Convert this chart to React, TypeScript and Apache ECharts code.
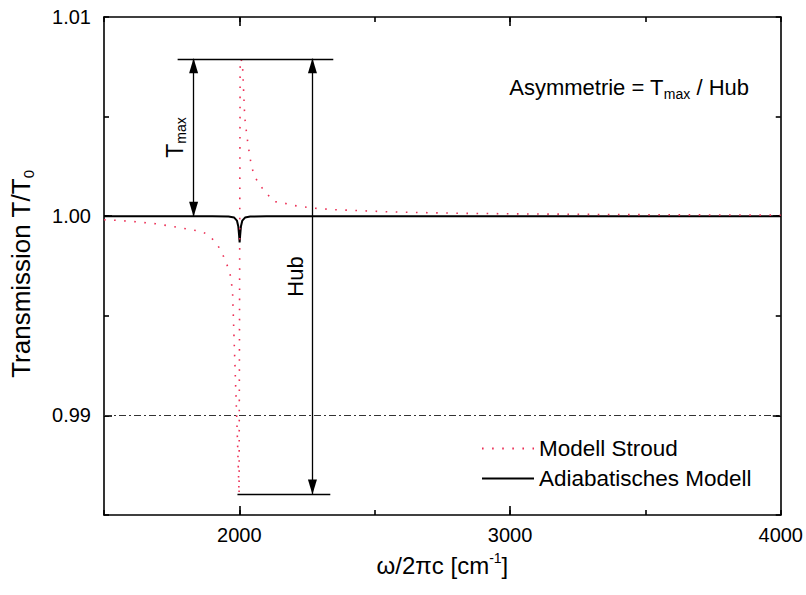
import React, { useEffect, useRef } from "react";
import * as echarts from "echarts";

const FONT = "'Liberation Sans', Arial, Helvetica, sans-serif";

// Modell Stroud (red dotted)
const stroudX = [1500, 1537, 1618, 1691, 1783, 1864, 1894, 1923, 1942, 1957, 1968, 1975, 1977, 1980, 1984, 1988, 1993, 1999, 2003, 2011, 2014, 2017, 2020, 2024, 2028, 2033, 2038, 2044, 2053, 2072, 2097, 2127, 2158, 2201, 2268, 2348, 2440, 2532, 2600, 2800, 3000, 3300, 3600, 4000];
const stroudT = [0.99982, 0.9998, 0.99972, 0.99962, 0.99942, 0.99922, 0.99897, 0.99847, 0.99797, 0.99747, 0.99697, 0.99617, 0.99531, 0.99406, 0.99246, 0.9908, 0.9888, 0.98605, 1.0079, 1.00778, 1.00684, 1.00589, 1.00495, 1.00449, 1.004, 1.00353, 1.00305, 1.00258, 1.00212, 1.00161, 1.00121, 1.00074, 1.00068, 1.00054, 1.00041, 1.00033, 1.00028, 1.00023, 1.0002, 1.00015, 1.00012, 1.00009, 1.00007, 1.00005];

// Adiabatisches Modell (black solid)
const adiaX = [1500, 1900, 1960, 1981, 1991, 1996, 1999, 2001, 2003, 2006, 2011, 2021, 2040, 2100, 4000];
const adiaT = [1.0, 1.0, 0.99998, 0.99993, 0.99978, 0.9995, 0.99905, 0.99868, 0.99905, 0.9995, 0.99978, 0.99993, 0.99998, 1.0, 1.0];

// axis ticks
const xMajorTicks = [2000, 3000];
const yMajorTicks = [0.99, 1.0];

// annotation values (data space)
const tmaxLevel = 1.0079;
const hubLevel = 0.98605;
const baseLevel = 1.0;
const refLine = 0.99;
const tmaxArrowX = 1831;
const hubArrowX = 2270;
const topLineRange = [1772, 2347];
const bottomLineRange = [1993, 2336];

const RED = "#ec2f55";

export default function App() {
  const ref = useRef<HTMLDivElement>(null);
  useEffect(() => {
    if (!ref.current) return;
    const chart = echarts.init(ref.current, undefined, { renderer: "svg" });
    const axisLineStyle = { color: "#000", width: 1.6 };
    const tickStyle = { color: "#000", width: 1.6 };
    const xBase = {
      type: "value",
      min: 1500,
      max: 4000,
      interval: 500,
      splitLine: { show: false },
    };
    const yBase = {
      type: "value",
      min: 0.985,
      max: 1.01,
      interval: 0.005,
      splitLine: { show: false },
    };
    const arrowSym = { symbol: "triangle", symbolSize: [9, 15] };
    const txt = { fontFamily: FONT, color: "#000", fontWeight: "normal" };
    const option: any = {
      animation: false,
      textStyle: { fontFamily: FONT },
      grid: { left: 103, right: 24, top: 17, bottom: 80 },
      title: {
        text: "{a|Asymmetrie = T}{s|max}{a| / Hub}",
        right: 52,
        top: 68,
        textStyle: {
          fontWeight: "normal",
          rich: {
            a: { ...txt, fontSize: 22, lineHeight: 28 },
            s: { ...txt, fontSize: 14, verticalAlign: "bottom", lineHeight: 12 },
          },
        },
      },
      legend: {
        data: ["Modell Stroud", "Adiabatisches Modell"],
        orient: "vertical",
        left: 476,
        top: 432,
        itemWidth: 52,
        itemHeight: 14,
        itemGap: 7,
        selectedMode: false,
        itemStyle: { opacity: 0 },
        textStyle: { ...txt, fontSize: 22.5, lineHeight: 23 },
      },
      xAxis: [
        {
          ...xBase,
          position: "bottom",
          axisLine: { show: true, lineStyle: axisLineStyle },
          axisTick: { show: true, inside: true, length: 5, lineStyle: tickStyle },
          axisLabel: {
            ...txt,
            fontSize: 20,
            margin: 10,
            formatter: (v: number) => (Math.round(v) % 1000 === 0 && v > 1500 ? String(v) : ""),
          },
          name: "{a|ω/2πc [cm}{s|-1}{a|]}",
          nameLocation: "middle",
          nameGap: 36,
          nameTextStyle: {
            rich: {
              a: { ...txt, fontSize: 24, lineHeight: 28 },
              s: { ...txt, fontSize: 14, verticalAlign: "top", lineHeight: 14 },
            },
          },
        },
        {
          ...xBase,
          position: "bottom",
          axisLine: { show: false },
          axisTick: { show: true, inside: true, length: 9, customValues: xMajorTicks, lineStyle: tickStyle },
          axisLabel: { show: false },
        },
        {
          ...xBase,
          position: "top",
          axisLine: { show: true, lineStyle: axisLineStyle },
          axisTick: { show: true, inside: true, length: 5, lineStyle: tickStyle },
          axisLabel: { show: false },
        },
        {
          ...xBase,
          position: "top",
          axisLine: { show: false },
          axisTick: { show: true, inside: true, length: 9, customValues: xMajorTicks, lineStyle: tickStyle },
          axisLabel: { show: false },
        },
      ],
      yAxis: [
        {
          ...yBase,
          position: "left",
          axisLine: { show: true, lineStyle: axisLineStyle },
          axisTick: { show: true, inside: true, length: 5, lineStyle: tickStyle },
          axisLabel: {
            ...txt,
            fontSize: 20,
            margin: 13,
            formatter: (v: number) => {
              const r = Math.round(v * 1000);
              return r % 10 === 0 ? (r / 1000).toFixed(2) : "";
            },
          },
          name: "{a|Transmission T/T}{s|0}",
          nameLocation: "middle",
          nameRotate: 90,
          nameGap: 68,
          nameTextStyle: {
            padding: [0, 16, 0, 0],
            rich: {
              a: { ...txt, fontSize: 26, lineHeight: 30 },
              s: { ...txt, fontSize: 15, verticalAlign: "bottom", lineHeight: 14 },
            },
          },
        },
        {
          ...yBase,
          position: "left",
          axisLine: { show: false },
          axisTick: { show: true, inside: true, length: 8, customValues: yMajorTicks, lineStyle: tickStyle },
          axisLabel: { show: false },
        },
        {
          ...yBase,
          position: "right",
          axisLine: { show: true, lineStyle: axisLineStyle },
          axisTick: { show: true, inside: true, length: 5, lineStyle: tickStyle },
          axisLabel: { show: false },
        },
        {
          ...yBase,
          position: "right",
          axisLine: { show: false },
          axisTick: { show: true, inside: true, length: 8, customValues: yMajorTicks, lineStyle: tickStyle },
          axisLabel: { show: false },
        },
      ],
      series: [
        {
          name: "Adiabatisches Modell",
          type: "line",
          xAxisIndex: 0,
          yAxisIndex: 0,
          symbol: "none",
          data: adiaX.map((x, i) => [x, adiaT[i]]),
          lineStyle: { color: "#000", width: 2 },
          itemStyle: { color: "#000" },
          z: 3,
          markLine: {
            silent: true,
            symbol: "none",
            animation: false,
            label: { show: false },
            data: [
              [
                { coord: [1500, refLine], lineStyle: { color: "#333", width: 1, type: [7, 3, 2, 3] } },
                { coord: [4000, refLine] },
              ],
              [
                { coord: [topLineRange[0], tmaxLevel], lineStyle: { color: "#000", width: 1.3, type: "solid" } },
                { coord: [topLineRange[1], tmaxLevel] },
              ],
              [
                { coord: [bottomLineRange[0], hubLevel], lineStyle: { color: "#000", width: 1.3, type: "solid" } },
                { coord: [bottomLineRange[1], hubLevel] },
              ],
              [
                {
                  coord: [tmaxArrowX, baseLevel],
                  ...arrowSym,
                  symbolOffset: [0, 7],
                  lineStyle: { color: "#000", width: 1.3, type: "solid" },
                  label: {
                    show: true,
                    position: "insideMiddleTop",
                    distance: 6,
                    formatter: "{a|T}{s|max}",
                    rich: {
                      a: { ...txt, fontSize: 23, lineHeight: 26 },
                      s: { ...txt, fontSize: 14, verticalAlign: "bottom", lineHeight: 12 },
                    },
                  },
                },
                { coord: [tmaxArrowX, tmaxLevel], ...arrowSym, symbolOffset: [0, 7] },
              ],
              [
                {
                  coord: [hubArrowX, hubLevel],
                  ...arrowSym,
                  symbolOffset: [0, 7],
                  lineStyle: { color: "#000", width: 1.3, type: "solid" },
                  label: {
                    show: true,
                    position: "insideMiddleTop",
                    distance: 6,
                    formatter: "Hub",
                    ...txt,
                    fontSize: 22,
                  },
                },
                { coord: [hubArrowX, tmaxLevel], ...arrowSym, symbolOffset: [0, 7] },
              ],
            ],
          },
        },
        {
          name: "Modell Stroud",
          type: "line",
          xAxisIndex: 0,
          yAxisIndex: 0,
          symbol: "none",
          data: stroudX.map((x, i) => [x, stroudT[i]]),
          lineStyle: { color: RED, width: 1.6, type: [1.6, 8.5] },
          itemStyle: { color: RED },
          z: 4,
        },
      ],
    };
    chart.setOption(option);
    return () => chart.dispose();
  }, []);
  return <div ref={ref} style={{ width: 806, height: 595, position: "absolute", left: 0, top: 0 }} />;
}
